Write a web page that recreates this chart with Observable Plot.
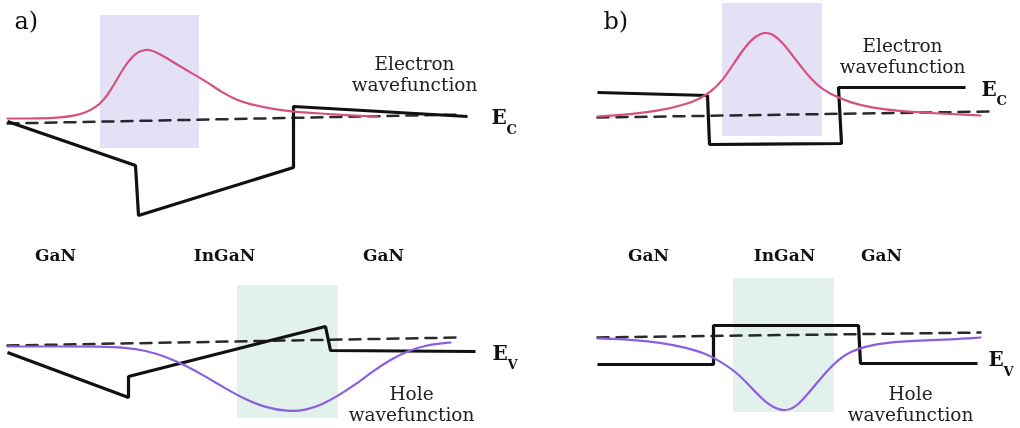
<!DOCTYPE html>
<html>
<head>
<meta charset="utf-8">
<script src="https://cdn.jsdelivr.net/npm/d3@7"></script>
<script src="https://cdn.jsdelivr.net/npm/@observablehq/plot@0.6"></script>
<style>
  html, body { margin: 0; padding: 0; background: #fff; }
  #chart svg { display: block; }
</style>
</head>
<body>
<div id="chart"></div>
<script>
// Coordinates (x: position along growth, y: energy drawn downward)
const condBandA = [[7,121],[135,165],[138,215],[293,167],[293,106],[467,116]];
const condBandB = [[597,92],[707,95],[709,144],[841,143],[838,87],[965,87]];
const valBandA  = [[7,352],[128,397],[128,376],[325,326],[330,350],[475,351]];
const valBandB  = [[597,364],[713,364],[713,325],[858,325],[860,363],[977,363]];

const levelCA = [[7,123],[462,114]];
const levelCB = [[597,117],[992,111]];
const levelVA = [[7,345],[458,337]];
const levelVB = [[597,337],[980,332]];

const electronA = [[7,118],[40,118],[60,117],[75,115],[85,112],[95,107],[103,100],[110,90],[117,78],[124,66],[131,57],[138,51],[145,49],[152,50],[160,54],[170,60],[180,66],[190,72],[199,77],[210,84],[222,92],[235,99],[250,104],[270,108],[290,111],[320,113],[350,115],[377,116]];
const electronB = [[597,116],[630,114],[660,110],[685,104],[700,98],[712,90],[722,80],[732,65],[742,50],[752,38],[760,33],[766,32],[773,34],[782,42],[792,55],[802,68],[812,80],[822,89],[835,96],[850,102],[870,107],[900,111],[940,113],[980,115]];
const holeA = [[7,346],[60,346],[100,346],[125,347],[145,350],[165,356],[185,365],[205,376],[225,388],[245,399],[265,407],[287,411],[305,410],[322,404],[338,395],[355,384],[372,371],[390,359],[408,350],[425,345],[440,343],[450,342]];
const holeB = [[597,338],[630,339],[660,342],[685,347],[705,353],[720,361],[735,371],[748,384],[760,397],[772,407],[785,411],[796,406],[806,395],[816,383],[826,371],[838,359],[850,351],[865,346],[885,342],[920,340],[950,339],[980,337]];

// well regions [x1, x2, y1, y2]
const electronWells = [[100,199,15,148],[722,822,3,136]];
const holeWells = [[237,338,285,418],[733,834,278,412]];

const layerNames = ["GaN","InGaN","GaN","GaN","InGaN","GaN"];
const layerX = [55,224,383,648,784,881];
const layerY = 260;

const panelLabels = ["a)","b)"];
const panelX = [14,603];

const wfLabels = ["Electron\nwavefunction","Electron\nwavefunction","Hole\nwavefunction","Hole\nwavefunction"];
const wfX = [414,902,411,910];
const wfY = [90,72,420,420];

const eMain = ["E","E","E","E"];
const eSub = ["C","C","V","V"];
const eX = [491,981,492,988];
const eY = [123,95,359,365];
const subY = [133,104,368,375];

const serif = "'DejaVu Serif', serif";
const pink = "#d6517f";
const violet = "#8c5fe0";

const pts = a => a.map(([x,y]) => ({x,y}));
const idx = n => d3.range(n);

const bandLine = (data) => Plot.line(pts(data), {x:"x", y:"y", stroke:"#111", strokeWidth:3.2, strokeLinejoin:"miter", strokeLinecap:"butt"});
const dashLine = (data) => Plot.line(pts(data), {x:"x", y:"y", stroke:"#2a2a2a", strokeWidth:2.5, strokeDasharray:"11,8"});
const wfLine = (data, c) => Plot.line(pts(data), {x:"x", y:"y", stroke:c, strokeWidth:2.2, curve:"basis"});

const chart = Plot.plot({
  width: 1020,
  height: 428,
  margin: 0,
  x: {domain:[0,1020], range:[0,1020], axis:null},
  y: {domain:[0,428], range:[0,428], axis:null},
  style: {background:"#fff"},
  marks: [
    dashLine(levelCA), dashLine(levelCB), dashLine(levelVA), dashLine(levelVB),
    bandLine(condBandA), bandLine(condBandB), bandLine(valBandA), bandLine(valBandB),
    Plot.rect(electronWells, {x1:d=>d[0], x2:d=>d[1], y1:d=>d[2], y2:d=>d[3], fill:"#e4e1f7", mixBlendMode:"multiply"}),
    Plot.rect(holeWells, {x1:d=>d[0], x2:d=>d[1], y1:d=>d[2], y2:d=>d[3], fill:"#e2f1ec", mixBlendMode:"multiply"}),
    wfLine(electronA, pink), wfLine(electronB, pink),
    wfLine(holeA, violet), wfLine(holeB, violet),
    Plot.text(idx(6), {x:i=>layerX[i], y:()=>layerY, text:i=>layerNames[i], fontFamily:serif, fontWeight:"bold", fontSize:17, lineAnchor:"bottom", fill:"#111"}),
    Plot.text(idx(2), {x:i=>panelX[i], y:()=>28, text:i=>panelLabels[i], fontFamily:serif, fontSize:24, textAnchor:"start", lineAnchor:"bottom", fill:"#111"}),
    Plot.text(idx(4), {x:i=>wfX[i], y:i=>wfY[i], text:i=>wfLabels[i], fontFamily:serif, fontSize:18.5, lineHeight:1.1, lineAnchor:"bottom", fill:"#222"}),
    Plot.text(idx(4), {x:i=>eX[i], y:i=>eY[i], text:i=>eMain[i], fontFamily:serif, fontWeight:"bold", fontSize:20, textAnchor:"start", lineAnchor:"bottom", fill:"#111"}),
    Plot.text(idx(4), {x:i=>eX[i] + 15, y:i=>subY[i], text:i=>eSub[i], fontFamily:serif, fontWeight:"bold", fontSize:13, textAnchor:"start", lineAnchor:"bottom", fill:"#111"})
  ]
});
document.getElementById("chart").appendChild(chart);
</script>
</body>
</html>
